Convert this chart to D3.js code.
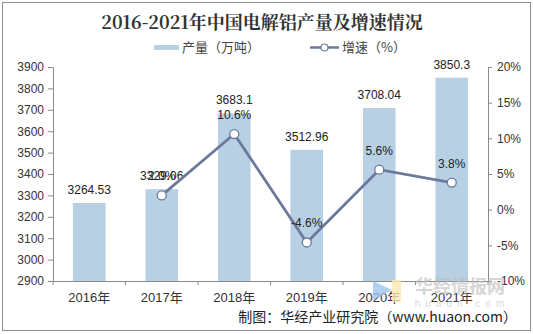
<!DOCTYPE html>
<html><head><meta charset="utf-8">
<script src="https://cdn.jsdelivr.net/npm/d3@7"></script>
<style>body{margin:0;background:#fff}svg{display:block}</style>
</head><body>
<script>
const years = ["2016年","2017年","2018年","2019年","2020年","2021年"];
const output = [3264.53, 3329.06, 3683.1, 3512.96, 3708.04, 3850.3];
const outputLabels = ["3264.53","3329.06","3683.1","3512.96","3708.04","3850.3"];
const growth = [null, 2.0, 10.6, -4.6, 5.6, 3.8];
const growthLabels = [null, "2.0%", "10.6%", "-4.6%", "5.6%", "3.8%"];
const leftTicks = [2900,3000,3100,3200,3300,3400,3500,3600,3700,3800,3900];
const rightTicks = [-10,-5,0,5,10,15,20];

const W=533,H=334;
const svg=d3.select("body").append("svg").attr("width",W).attr("height",H);
const font="'Liberation Sans', Arial, 'Noto Sans CJK SC', sans-serif";
const cjk="'Noto Sans CJK SC', sans-serif";
svg.append("rect").attr("x",2.5).attr("y",2.5).attr("width",528).attr("height",328)
  .attr("fill","#fff").attr("stroke","#8f8f8f");

const L=53,R=488,T=67,B=281;
const x=d3.scaleBand().domain(years).range([L,R]).paddingInner(0.55).paddingOuter(0.275);
const xb=d3.scaleBand().domain(years).range([L,R]);
const yL=d3.scaleLinear().domain([2900,3900]).range([B,T]);
const yR=d3.scaleLinear().domain([-10,20]).range([B,T]);

const barColor="#b7d0e3", lineColor="#6b7a9c", axisColor="#8a8a8a";

// title
svg.append("text").attr("x",262).attr("y",29).attr("text-anchor","middle")
  .attr("font-family","'Noto Serif CJK SC','Noto Sans CJK SC',serif").attr("font-weight","bold")
  .attr("font-size",18).attr("fill","#333").text("2016-2021年中国电解铝产量及增速情况");

// legend
svg.append("rect").attr("x",154).attr("y",45).attr("width",25).attr("height",5).attr("fill",barColor);
svg.append("text").attr("x",182).attr("y",52).attr("font-family",cjk).attr("font-size",13).attr("fill","#444").text("产量（万吨）");
svg.append("line").attr("x1",310).attr("x2",339).attr("y1",47.5).attr("y2",47.5).attr("stroke",lineColor).attr("stroke-width",2.5);
svg.append("circle").attr("cx",324.5).attr("cy",47.5).attr("r",3.5).attr("fill","#fff").attr("stroke",lineColor).attr("stroke-width",1.2);
svg.append("text").attr("x",342).attr("y",52).attr("font-family",cjk).attr("font-size",13).attr("fill","#444").text("增速（%）");

// bars
svg.selectAll("rect.bar").data(years).enter().append("rect").attr("class","bar")
  .attr("x",d=>x(d)).attr("width",x.bandwidth())
  .attr("y",(d,i)=>yL(output[i])).attr("height",(d,i)=>B-yL(output[i]))
  .attr("fill",barColor);

// axes
const gL=svg.append("g").attr("transform",`translate(${L},0)`)
  .call(d3.axisLeft(yL).tickValues(leftTicks).tickFormat(d3.format("d")).tickSize(5).tickSizeOuter(0).tickPadding(4));
const gR=svg.append("g").attr("transform",`translate(${R},0)`)
  .call(d3.axisRight(yR).tickValues(rightTicks).tickSize(4).tickSizeOuter(0).tickPadding(5).tickFormat(d=>d+"%"));
const gB=svg.append("g").attr("transform",`translate(0,${B})`)
  .call(d3.axisBottom(xb).tickSize(0).tickSizeOuter(0).tickPadding(12));
// category boundary ticks
svg.selectAll("line.ct").data(d3.range(years.length+1)).enter().append("line")
  .attr("x1",i=>L+i*xb.step()).attr("x2",i=>L+i*xb.step()).attr("y1",B).attr("y2",B+4)
  .attr("stroke",axisColor);
[gL,gR,gB].forEach(g=>{
  g.selectAll("path,line").attr("stroke",axisColor);
  g.selectAll("text").attr("font-family",font).attr("font-size",12).attr("fill","#333");
});
gB.selectAll("text").attr("font-size",13).attr("font-family",font);

// value labels
svg.selectAll("text.vl").data(years).enter().append("text").attr("class","vl")
  .attr("x",d=>x(d)+x.bandwidth()/2).attr("y",(d,i)=>yL(output[i])-9)
  .attr("text-anchor","middle").attr("font-family",font).attr("font-size",12).attr("fill","#222")
  .text((d,i)=>outputLabels[i]);

// line
const pts=years.map((d,i)=>({d,v:growth[i],l:growthLabels[i]})).filter(p=>p.v!==null);
const lineGen=d3.line().x(p=>xb(p.d)+xb.bandwidth()/2).y(p=>yR(p.v));
svg.append("path").datum(pts).attr("d",lineGen).attr("fill","none").attr("stroke",lineColor).attr("stroke-width",2.8);
svg.selectAll("circle.pt").data(pts).enter().append("circle")
  .attr("cx",p=>xb(p.d)+xb.bandwidth()/2).attr("cy",p=>yR(p.v)).attr("r",4.5)
  .attr("fill","#fff").attr("stroke",lineColor).attr("stroke-width",1.3);
svg.selectAll("text.gl").data(pts).enter().append("text")
  .attr("x",p=>xb(p.d)+xb.bandwidth()/2).attr("y",p=>yR(p.v)-15)
  .attr("text-anchor","middle").attr("font-family",font).attr("font-size",12).attr("fill","#222")
  .text(p=>p.l);

// watermark
svg.append("path").attr("d","M373,281 L392,290 L373,300 Z").attr("fill","#9ec3f0").attr("opacity",0.8);
svg.append("rect").attr("x",392).attr("y",280).attr("width",9).attr("height",22).attr("fill","#fbe9b0").attr("opacity",0.8);
svg.append("text").attr("x",460).attr("y",293).attr("text-anchor","middle").attr("font-family",cjk).attr("font-weight","bold")
  .attr("font-size",18).attr("fill","#bbb").attr("opacity",0.6).text("华经情报网");
svg.append("text").attr("x",462).attr("y",307).attr("text-anchor","middle").attr("font-family",font)
  .attr("font-size",10).attr("letter-spacing",5).attr("fill","#ccc").attr("opacity",0.7).text("huaon.com");

// source
svg.append("text").attr("x",517).attr("y",322).attr("text-anchor","end").attr("font-family",cjk)
  .attr("font-size",14).attr("fill","#222").text("制图：华经产业研究院（www.huaon.com）");
</script>
</body></html>
